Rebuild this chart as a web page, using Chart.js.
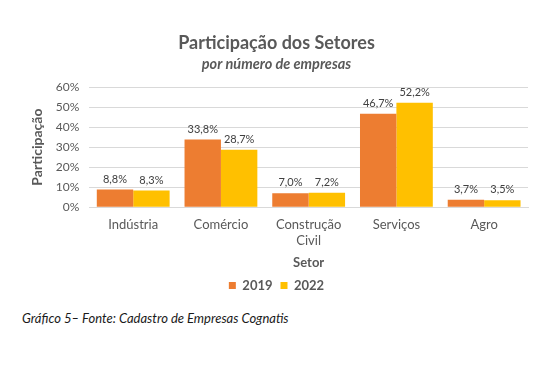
<!DOCTYPE html>
<html>
<head>
<meta charset="utf-8">
<script src="https://cdn.jsdelivr.net/npm/chart.js@4"></script>
<style>
    html, body { margin: 0; padding: 0; background: #fff; }
    .wrap { position: relative; width: 560px; height: 368px; }
    #chart { position: absolute; left: 0; top: 0; }
    .fonte { position: absolute; left: 22px; top: 310px; font: italic 13px Lato, sans-serif; color: #1a1a1a; }
</style>
</head>
<body>
<div class="wrap">
    <canvas id="chart" width="560" height="302"></canvas>
    <div class="fonte">Gráfico 5– Fonte: Cadastro de Empresas Cognatis</div>
</div>
<script>
const setores = ['Indústria', 'Comércio', ['Construção', 'Civil'], 'Serviços', 'Agro'];
const anos = ['2019', '2022'];
const valores2019 = [8.8, 33.8, 7.0, 46.7, 3.7];
const valores2022 = [8.3, 28.7, 7.2, 52.2, 3.5];
const ticksY = [0, 10, 20, 30, 40, 50, 60];

const cinza = '#595959';
const fonte = 'Lato, sans-serif';

function formatPercent(value) {
    return `${Number(value).toFixed(1).replace('.', ',')}%`;
}

// rótulos acima das barras
const rotulos = {
    id: 'rotulos',
    afterDatasetsDraw(chart) {
        const ctx = chart.ctx;
        ctx.save();
        ctx.font = `11px ${fonte}`;
        ctx.fillStyle = '#404040';
        ctx.textAlign = 'center';
        ctx.textBaseline = 'bottom';
        chart.data.datasets.forEach((ds, i) => {
            chart.getDatasetMeta(i).data.forEach((bar, j) => {
                ctx.fillText(formatPercent(ds.data[j]), bar.x, bar.y - 5);
            });
        });
        ctx.restore();
    }
};

new Chart(document.getElementById('chart'), {
    type: 'bar',
    data: {
        labels: setores,
        datasets: [
            { label: anos[0], data: valores2019, backgroundColor: '#ED7D31' },
            { label: anos[1], data: valores2022, backgroundColor: '#FFC000' }
        ]
    },
    options: {
        responsive: false,
        animation: false,
        layout: { padding: { left: 25, right: 32, bottom: 0 } },
        datasets: { bar: { categoryPercentage: 0.83, barPercentage: 1, borderWidth: 0 } },
        scales: {
            x: {
                grid: { display: false },
                border: { color: '#d9d9d9' },
                ticks: { color: cinza, font: { family: fonte, size: 13 }, padding: 2 },
                title: { display: true, text: 'Setor', color: cinza, font: { family: fonte, size: 13, weight: 'bold' }, padding: { top: 5, bottom: 0 } }
            },
            y: {
                min: 0,
                max: 60,
                afterBuildTicks(scale) { scale.ticks = ticksY.map(v => ({ value: v })); },
                grid: { color: '#d9d9d9', drawTicks: false },
                border: { display: false },
                ticks: { color: cinza, font: { family: fonte, size: 12 }, padding: 10, callback: v => `${v}%` },
                title: { display: true, text: 'Participação', color: cinza, font: { family: fonte, size: 14, weight: 'bold' }, padding: { bottom: 0 } }
            }
        },
        plugins: {
            title: { display: true, text: 'Participação dos Setores', color: cinza, font: { family: fonte, size: 18, weight: 'bold' }, padding: { top: 32, bottom: 2 } },
            subtitle: { display: true, text: 'por número de empresas', color: cinza, font: { family: fonte, size: 14.5, style: 'italic', weight: 'bold' }, padding: { bottom: 14 } },
            legend: {
                position: 'bottom',
                labels: { color: cinza, font: { family: fonte, size: 13, weight: 'bold' }, boxWidth: 7, boxHeight: 7, padding: 8 }
            },
            tooltip: { enabled: false }
        }
    },
    plugins: [rotulos]
});
</script>
</body>
</html>
